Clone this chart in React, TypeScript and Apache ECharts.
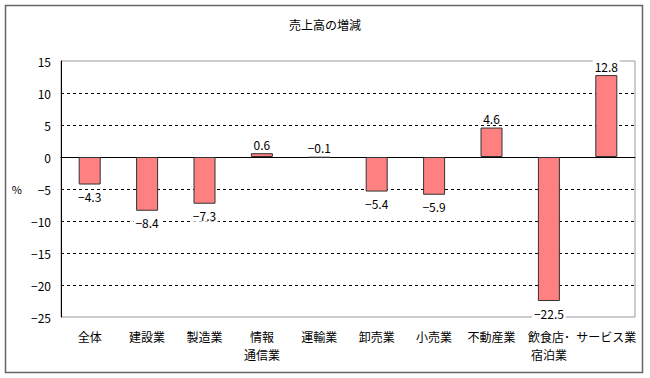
import React, { useEffect, useRef } from "react";
import * as echarts from "echarts";

const title = "売上高の増減";
const categories = ["全体", "建設業", "製造業", "情報\n通信業", "運輸業", "卸売業", "小売業", "不動産業", "飲食店･\n宿泊業", "サービス業"];
const values = [-4.3, -8.4, -7.3, 0.6, -0.1, -5.4, -5.9, 4.6, -22.5, 12.8];
const labelAbove = [false, false, false, true, true, false, false, true, false, true];
const yMin = -25;
const yMax = 15;
const yInterval = 5;

const FONT = "'Noto Sans CJK JP', 'DejaVu Sans', sans-serif";

export default function App() {
  const ref = useRef<HTMLDivElement>(null);
  useEffect(() => {
    if (!ref.current) return;
    const chart = echarts.init(ref.current, undefined, { renderer: "svg" });
    const fmt = (v: number) => String(v).replace("-", "\u2212");
    chart.setOption({
      animation: false,
      backgroundColor: "#fff",
      textStyle: { fontFamily: FONT },
      title: {
        text: title,
        left: "center",
        top: 13,
        textStyle: { fontSize: 12, fontWeight: "normal", color: "#000", fontFamily: FONT },
      },
      graphic: [
        {
          type: "rect",
          shape: { x: 5.5, y: 5.5, width: 637, height: 367 },
          style: { fill: "none", stroke: "#666", lineWidth: 1.5 },
          silent: true,
        },
      ],
      grid: {
        left: 61,
        right: 15,
        top: 61,
        bottom: 61,
        show: true,
        borderColor: "#999",
        borderWidth: 1,
        backgroundColor: "transparent",
      },
      xAxis: {
        type: "category",
        data: categories,
        axisLine: { onZero: true, lineStyle: { color: "#000", width: 1 } },
        axisTick: { show: false },
        axisLabel: {
          interval: 0,
          margin: 10,
          fontSize: 12,
          lineHeight: 18,
          color: "#000",
          fontFamily: FONT,
          verticalAlign: "top",
        },
      },
      yAxis: {
        type: "value",
        min: yMin,
        max: yMax,
        interval: yInterval,
        name: "%",
        nameLocation: "middle",
        nameRotate: 0,
        nameGap: 39,
        nameTextStyle: { fontSize: 11, color: "#000", fontFamily: FONT },
        axisLine: { show: true, lineStyle: { color: "#000", width: 1 } },
        axisTick: { show: false },
        axisLabel: {
          fontSize: 12,
          color: "#000",
          margin: 10,
          fontFamily: FONT,
          formatter: (v: number) => fmt(v),
        },
        splitLine: {
          show: true,
          showMinLine: false,
          showMaxLine: false,
          lineStyle: { color: "#000", type: [3, 3], width: 1 },
        },
      },
      series: [
        {
          type: "bar",
          barWidth: 22,
          data: values.map((v, i) => ({
            value: v,
            label: labelAbove[i]
              ? { position: "top", distance: 3 }
              : { position: "bottom", distance: 6 },
          })),
          itemStyle: { color: "#FF8080", borderColor: "#333", borderWidth: 1 },
          label: {
            show: true,
            fontSize: 12,
            color: "#000",
            fontFamily: FONT,
            backgroundColor: "#fff",
            padding: [0, 2],
            formatter: (p: any) => fmt(p.value),
          },
        },
      ],
    });
    return () => chart.dispose();
  }, []);
  return (
    <div
      ref={ref}
      style={{ position: "absolute", left: 0, top: 0, width: 650, height: 378 }}
    />
  );
}
